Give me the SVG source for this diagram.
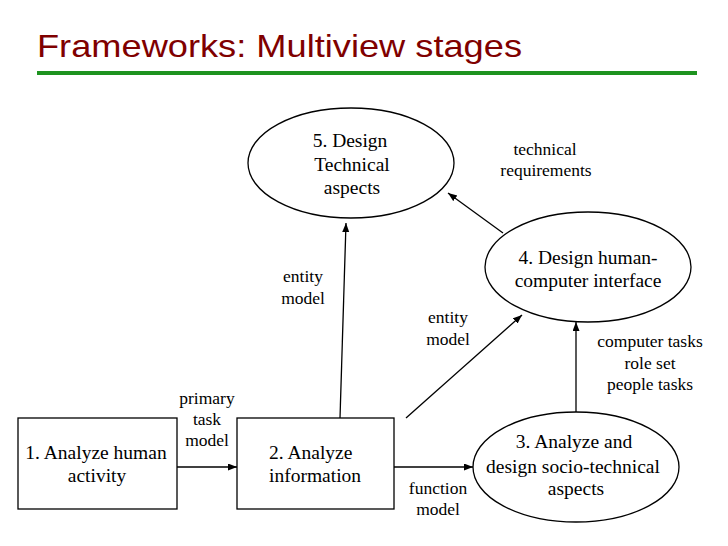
<svg xmlns="http://www.w3.org/2000/svg" width="728" height="546" viewBox="0 0 728 546">
<style>
.node{fill:#fff;stroke:#000;stroke-width:1.3}
.nt{font-family:"Liberation Serif","Times New Roman",serif;font-size:19.5px;fill:#000;text-anchor:middle}
.ns{font-family:"Liberation Serif","Times New Roman",serif;font-size:19.5px;fill:#000;text-anchor:start}
.lt{font-family:"Liberation Serif","Times New Roman",serif;font-size:17.5px;fill:#000;text-anchor:middle}
.edge{stroke:#000;stroke-width:1.3;fill:none;marker-end:url(#ah)}
</style>
<defs>
<marker id="ah" markerUnits="userSpaceOnUse" markerWidth="10" markerHeight="8" refX="9" refY="3.5" orient="auto">
<path d="M0,0 L9,3.5 L0,7 z" fill="#000"/>
</marker>
</defs>
<rect width="728" height="546" fill="#fff"/>
<text x="37" y="57" font-family="Liberation Sans, sans-serif" font-size="32" fill="#7f0000" textLength="485" lengthAdjust="spacingAndGlyphs">Frameworks: Multiview stages</text>
<line x1="37" y1="73" x2="697" y2="73" stroke="#1e9320" stroke-width="4"/>
<g id="connectors">
<line class="edge" x1="177" y1="467" x2="237" y2="467"/>
<line class="edge" x1="394" y1="467" x2="473" y2="467"/>
<line class="edge" x1="340" y1="418" x2="346" y2="223"/>
<line class="edge" x1="406" y1="418" x2="522" y2="315"/>
<line class="edge" x1="503" y1="233" x2="448" y2="193"/>
<line class="edge" x1="576" y1="412" x2="576" y2="322"/>
<text class="lt" x="207" y="404">primary</text>
<text class="lt" x="207" y="425">task</text>
<text class="lt" x="207" y="446">model</text>
<text class="lt" x="303" y="282">entity</text>
<text class="lt" x="303" y="304">model</text>
<text class="lt" x="448" y="323">entity</text>
<text class="lt" x="448" y="345">model</text>
<text class="lt" x="545" y="155">technical</text>
<text class="lt" x="546" y="176">requirements</text>
<text class="lt" x="650" y="347">computer tasks</text>
<text class="lt" x="650" y="369">role set</text>
<text class="lt" x="650" y="390">people tasks</text>
<text class="lt" x="438" y="494">function</text>
<text class="lt" x="438" y="515">model</text>
</g>
<g id="n1">
<rect class="node" x="18" y="418" width="159" height="91"/>
<text class="nt" x="96" y="459">1. Analyze human</text>
<text class="nt" x="97" y="482">activity</text>
</g>
<g id="n2">
<rect class="node" x="237" y="418" width="157" height="91"/>
<text class="ns" x="269" y="459">2. Analyze</text>
<text class="ns" x="269" y="482">information</text>
</g>
<g id="n3">
<ellipse class="node" cx="576" cy="467" rx="103" ry="55"/>
<text class="nt" x="574" y="448">3. Analyze and</text>
<text class="nt" x="573" y="473">design socio-technical</text>
<text class="nt" x="576" y="495">aspects</text>
</g>
<g id="n4">
<ellipse class="node" cx="588" cy="267" rx="103" ry="55"/>
<text class="nt" x="588" y="264">4. Design human-</text>
<text class="nt" x="588" y="287">computer interface</text>
</g>
<g id="n5">
<ellipse class="node" cx="351" cy="163" rx="103" ry="55"/>
<text class="nt" x="350" y="147">5. Design</text>
<text class="nt" x="352" y="171">Technical</text>
<text class="nt" x="352" y="194">aspects</text>
</g>
</svg>
